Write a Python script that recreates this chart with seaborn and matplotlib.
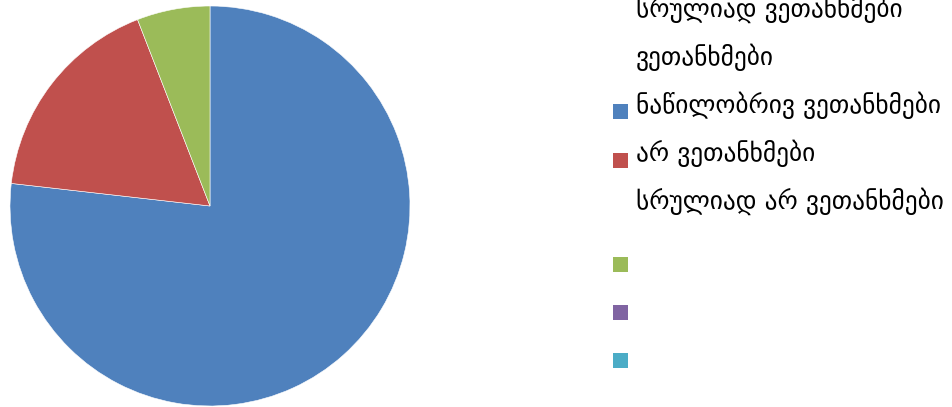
import matplotlib
matplotlib.use("Agg")
import matplotlib.pyplot as plt
import seaborn as sns
from matplotlib.patches import Rectangle

# Data
categories = ["ნაწილობრივ ვეთანხმები", "არ ვეთანხმები", "სრულიად არ ვეთანხმები"]
values = [76.8, 17.3, 5.9]
slice_colors = ["#4F81BD", "#C0504D", "#9BBB59"]

legend_labels = ["სრულიად ვეთანხმები", "ვეთანხმები", "ნაწილობრივ ვეთანხმები",
                 "არ ვეთანხმები", "სრულიად არ ვეთანხმები"]
legend_marker_colors = ["#4F81BD", "#C0504D", "#9BBB59", "#8064A2", "#4BACC6"]

sns.set_theme(style="white")
plt.rcParams['font.family'] = ['DejaVu Sans']

W, H = 953, 407
fig = plt.figure(figsize=(W / 100, H / 100), dpi=100)
fig.patch.set_facecolor("white")

ax = fig.add_axes([10 / W, 1 / H, 400 / W, 400 / H])
ax.pie(values, colors=slice_colors, startangle=90, counterclock=False,
       radius=1.0, wedgeprops=dict(edgecolor="white", linewidth=0.4))
ax.set_xlim(-1, 1)
ax.set_ylim(-1, 1)
ax.set_aspect("equal")
ax.axis("off")

# Legend (as it appears: labels and markers offset)
text_rows_px = [9, 57, 105, 153, 201]
for lab, ypx in zip(legend_labels, text_rows_px):
    fig.text(636 / W, 1 - ypx / H, lab, fontsize=18.3, color="black",
             ha="left", va="center")

marker_rows_px = [104, 153, 257, 305, 353]
for c, ypx in zip(legend_marker_colors, marker_rows_px):
    fig.patches.append(Rectangle((613 / W, 1 - (ypx + 15) / H), 15 / W, 15 / H,
                                 transform=fig.transFigure, facecolor=c,
                                 edgecolor="none"))

fig.savefig("out.png", dpi=100)
